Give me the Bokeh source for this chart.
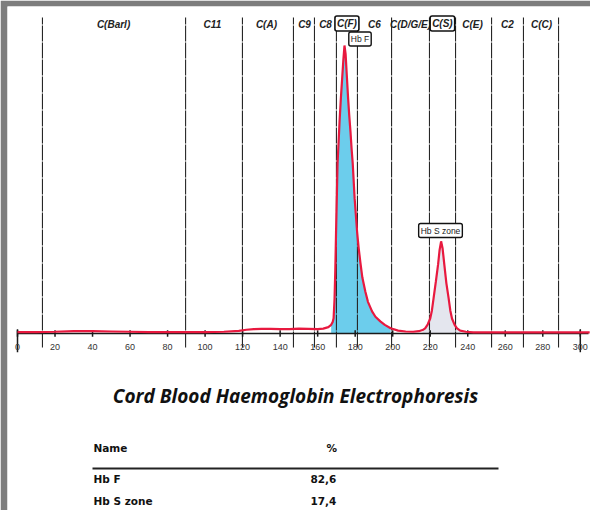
from bokeh.plotting import figure
from bokeh.models import Range1d
from bokeh.core.properties import value
from bokeh.embed import file_html
from bokeh.resources import INLINE

# ---------------- data ----------------
curve_x = [0, 5, 10, 20, 30, 40, 50, 60, 70, 80, 90, 100, 110, 118, 122, 126, 130, 135, 140, 145,
           150, 155, 160, 163, 165.7, 167.2, 168.0, 168.5, 169.0, 169.4, 169.8, 170.2, 170.6, 171.2,
           171.7, 172.4, 173.1, 173.7, 174.3, 174.9, 175.5, 176.2, 176.8, 177.5, 178.1, 178.7, 179.7,
           181.0, 181.8, 182.8, 183.8, 185.4, 186.8, 189.0, 190.8, 193.4, 195.8, 198.9, 202.9, 206.9, 210.9,
           213.9, 215.9, 217.3, 218.7, 220.0, 220.9, 221.8, 223.0, 224.2, 225.0, 225.8, 226.6, 227.5,
           228.6, 229.8, 230.7, 231.6, 233.0, 234.3, 236, 239, 243, 250, 260, 270, 280, 290, 300, 305]
curve_y = [0.5, 0.5, 0.5, 0.6, 0.8, 0.8, 0.7, 0.6, 0.5, 0.5, 0.5, 0.5, 0.6, 0.9, 1.3, 1.5, 1.6, 1.6, 1.5, 1.5,
           1.7, 1.6, 1.5, 1.7, 2.2, 3.0, 4.0, 5.3, 12, 22, 35, 47, 59, 67,
           74, 82, 89, 95, 100, 97, 90, 82, 76, 70, 64, 59, 47,
           35.5, 30, 24.5, 19.5, 14.6, 11, 7.7, 5.8, 4.2, 3.0, 1.8, 1.0, 0.7, 0.6,
           0.8, 1.2, 1.8, 3.2, 5.2, 8, 12.3, 18, 24, 29, 32, 29.5, 24,
           17.5, 12.3, 8, 5.2, 3.0, 1.8, 1.0, 0.6, 0.4, 0.4, 0.4, 0.4, 0.4, 0.4, 0.4, 0.4]

peak_names = ["Hb F", "Hb S zone"]
peak_percent = ["82,6", "17,4"]
hbf_limits = [166.7, 198.9]
hbs_limits = [215.9, 236.0]

zone_bounds = [13.3, 89.6, 119.9, 147.1, 158.3, 170.0, 181.2, 199.4, 219.6, 233.5, 252.7, 269.7, 288.4]
zone_labels = ["C(Barl)", "C11", "C(A)", "C9", "C8", "C6", "C(D/G/E)", "C(E)", "C2", "C(C)"]
zone_label_x = [51.2, 103.9, 132.7, 153.0, 164.2, 190.3, 209.5, 242.5, 261.2, 279.3]
boxed_labels = ["C(F)", "C(S)"]
boxed_label_x = [175.6, 226.5]

ticks = [0, 20, 40, 60, 80, 100, 120, 140, 160, 180, 200, 220, 240, 260, 280, 300]
tick_labels = [str(t) for t in ticks]
end_ticks = [0, 300]

title_text = "Cord Blood Haemoglobin Electrophoresis"
table_header = ["Name", "%"]

# ---------------- layout helpers (page pixels -> data) ----------------
X0_PX, X_SCALE = 17, 1.876
Y0_PX, Y_SCALE = 333, 2.88


def px_x(px):
    return (px - X0_PX) / X_SCALE


def px_y(py):
    return (Y0_PX - py) / Y_SCALE


p = figure(width=590, height=510, output_backend="svg", toolbar_location=None,
           x_range=Range1d(px_x(7), px_x(590)), y_range=Range1d(px_y(510), px_y(6)),
           x_axis_location=None, y_axis_location=None,
           min_border_left=7, min_border_top=6, min_border_right=0, min_border_bottom=0,
           border_fill_color="#7d7d7d", background_fill_color="white", outline_line_color=None)
p.xgrid.visible = False
p.ygrid.visible = False

# fills under peaks
fx = [x for x in curve_x if hbf_limits[0] <= x <= hbf_limits[1]]
fy = [y for x, y in zip(curve_x, curve_y) if hbf_limits[0] <= x <= hbf_limits[1]]
p.varea(x=fx, y1=[0] * len(fx), y2=fy, fill_color="#5cc8ea", fill_alpha=0.9)
sx = [x for x in curve_x if hbs_limits[0] <= x <= hbs_limits[1]]
sy = [y for x, y in zip(curve_x, curve_y) if hbs_limits[0] <= x <= hbs_limits[1]]
p.varea(x=sx, y1=[0] * len(sx), y2=sy, fill_color="#e4e6ee", fill_alpha=1.0)

# zone boundaries
p.segment(x0=zone_bounds, y0=[px_y(347)] * len(zone_bounds), x1=zone_bounds,
          y1=[px_y(17)] * len(zone_bounds), line_color="#262626", line_width=1.1, line_dash="16 1")

# axis line, ticks, labels
p.line(x=[ticks[0], px_x(588)], y=[0, 0], line_color="#1a1a1a", line_width=1.5)
p.segment(x0=ticks, y0=[1.1] * len(ticks), x1=ticks, y1=[-1.1] * len(ticks),
          line_color="#1a1a1a", line_width=1.5)
p.segment(x0=end_ticks, y0=[1.5] * 2, x1=end_ticks, y1=[-6.5] * 2, line_color="#1a1a1a", line_width=1.5)
p.text(x=ticks, y=[px_y(346)] * len(ticks), text=tick_labels, text_font=value("Liberation Sans"),
       text_font_size="9px", text_color="#333333", text_align="center", text_baseline="middle")

# curve
p.line(x=curve_x, y=curve_y, line_color="#e8193f", line_width=2.2)

# zone labels
p.text(x=zone_label_x, y=[px_y(24)] * len(zone_label_x), text=zone_labels,
       text_font=value("Liberation Sans"), text_font_style="bold italic", text_font_size="10px",
       text_color="#222222", text_align="center", text_baseline="middle")
p.text(x=boxed_label_x, y=[px_y(23)] * 2, text=boxed_labels,
       text_font=value("Liberation Sans"), text_font_style="bold italic", text_font_size="10px",
       text_color="#222222", text_align="center", text_baseline="middle",
       background_fill_color="white", border_line_color="#111111", border_line_width=1.6,
       padding=2, border_radius=2)

# peak labels
peak_label_x = [px_x(359.5), px_x(440)]
peak_label_y = [px_y(38.5), px_y(230)]
p.text(x=peak_label_x, y=peak_label_y, text=peak_names, text_font=value("Liberation Sans"),
       text_font_size="8.5px", text_color="#222222", text_align="center", text_baseline="middle",
       background_fill_color="white", border_line_color="#111111", border_line_width=1.4,
       padding=2, border_radius=2)

# title
p.text(x=[px_x(295)], y=[px_y(395)], text=[title_text], text_font=value("Open Sans"),
       text_font_style="bold italic", text_font_size="19px", text_color="#111111",
       text_align="center", text_baseline="middle")

# table
tbl_font = value("DejaVu Sans")
p.text(x=[px_x(93), px_x(326)], y=[px_y(447)] * 2, text=table_header, text_font=tbl_font,
       text_font_style="bold", text_font_size="10.5px", text_color="#111111",
       text_align="left", text_baseline="middle")
p.line(x=[px_x(92), px_x(498)], y=[px_y(468)] * 2, line_color="#222222", line_width=2)
row_y = [px_y(478), px_y(500)]
p.text(x=[px_x(93)] * 2, y=row_y, text=peak_names, text_font=tbl_font,
       text_font_style="bold", text_font_size="10.5px", text_color="#111111",
       text_align="left", text_baseline="middle")
p.text(x=[px_x(310)] * 2, y=row_y, text=peak_percent, text_font=tbl_font,
       text_font_style="bold", text_font_size="10.5px", text_color="#111111",
       text_align="left", text_baseline="middle")

open("out.html", "w").write(file_html(p, INLINE))
